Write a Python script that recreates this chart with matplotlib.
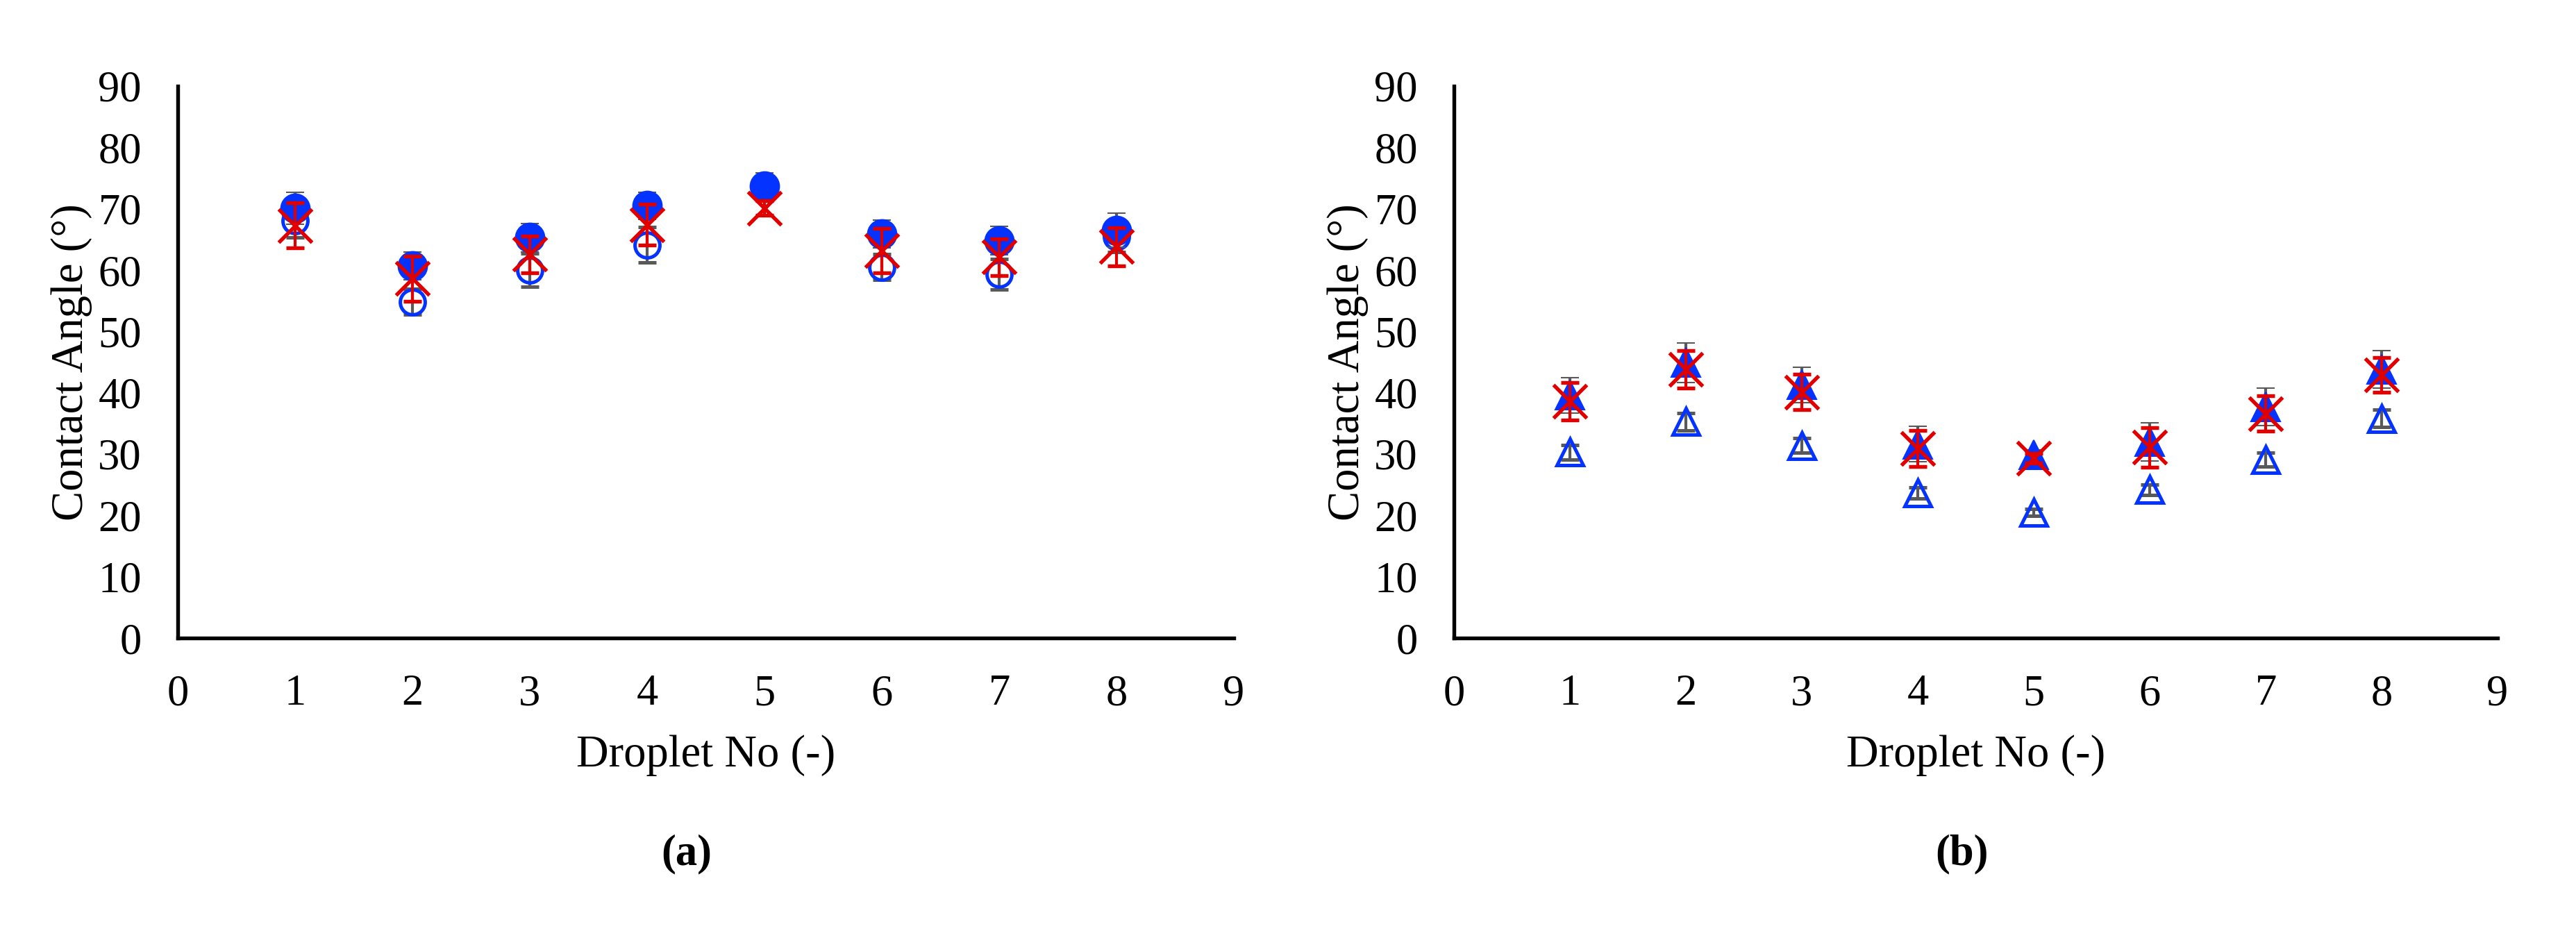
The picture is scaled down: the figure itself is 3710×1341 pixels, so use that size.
import numpy as np
import matplotlib
matplotlib.use("Agg")
import matplotlib.pyplot as plt

plt.rcParams['font.family'] = ['Liberation Serif', 'DejaVu Serif']

droplet = [1, 2, 3, 4, 5, 6, 7, 8]
nan = np.nan

# panel (a): circles
filled_a = [70.1, 60.7, 65.3, 70.5, 73.7, 65.9, 64.8, 66.5]
filled_a_err = [2.6, 2.3, 2.3, 2.2, 2.1, 2.3, 2.3, 2.8]
open_a = [68.0, 54.8, 60.0, 64.1, nan, 60.5, 59.3, 65.4]
open_a_err = [2.7, 2.1, 2.7, 2.9, nan, 2.1, 2.5, 2.5]
cross_a = [67.3, 58.6, 62.6, 67.4, 70.1, 63.2, 62.1, 63.8]
cross_a_err = [3.7, 3.7, 3.0, 3.3, 1.2, 3.6, 3.0, 3.1]

# panel (b): triangles
filled_b = [39.6, 44.9, 41.3, 31.6, 29.9, 32.0, 37.7, 43.8]
filled_b_err = [2.9, 3.2, 2.9, 2.9, 0.8, 3.1, 3.1, 3.1]
open_b = [30.3, 35.3, 31.4, 23.7, 20.5, 24.2, 29.1, 35.8]
open_b_err = [1.2, 1.4, 1.2, 0.9, 0.6, 0.85, 1.1, 1.4]
cross_b = [38.6, 43.8, 40.1, 30.9, 29.3, 31.1, 36.6, 42.9]
cross_b_err = [3.1, 3.1, 2.9, 2.95, 0.8, 3.2, 2.9, 2.85]

blue = '#0433FF'
red = '#E00000'
grey = '#595959'

W, H = 3710, 1341
fig = plt.figure(figsize=(W / 300, H / 300), dpi=300)

ax_a = fig.add_axes([256 / W, 1 - 919 / H, 1521 / W, 795 / H])
ax_b = fig.add_axes([2094 / W, 1 - 919 / H, 1503 / W, 795 / H])

eb = dict(capsize=3.2, capthick=1.2, elinewidth=1.0, linestyle='none', clip_on=False)


def draw(ax, filled, filled_err, opn, opn_err, cross, cross_err, mk, ms_f, ms_o):
    ax.errorbar(droplet, opn, yerr=opn_err, fmt=mk, ms=ms_o, mfc='none', mec=blue,
                mew=1.2, ecolor=grey, zorder=3, **eb)
    ax.errorbar(droplet, filled, yerr=filled_err, fmt=mk, ms=ms_f, mfc=blue, mec=blue,
                mew=0.5, ecolor=grey, zorder=4, **eb)
    ax.errorbar(droplet, cross, yerr=cross_err, fmt='x', ms=11.5, mec=red,
                mew=1.3, ecolor=red, zorder=5, **eb)

    ax.set_xlim(0, 9)
    ax.set_ylim(0, 90)
    ax.set_xticks(range(0, 10))
    ax.set_yticks(range(0, 100, 10))
    ax.tick_params(length=0, labelsize=15, pad=12.5)
    for s in ['top', 'right']:
        ax.spines[s].set_visible(False)
    for s in ['left', 'bottom']:
        ax.spines[s].set_linewidth(1.3)
        ax.spines[s].set_color('black')
    ax.set_xlabel('Droplet No (-)', fontsize=15.5, labelpad=7)
    ax.set_ylabel('Contact Angle (°)', fontsize=15.5, labelpad=2)


draw(ax_a, filled_a, filled_a_err, open_a, open_a_err, cross_a, cross_a_err, 'o', 10, 8.6)
draw(ax_b, filled_b, filled_b_err, open_b, open_b_err, cross_b, cross_b_err, '^', 10.3, 9.2)

fig.text(989 / W, 1 - 1230 / H, '(a)', ha='center', va='center', fontsize=15, fontweight='bold')
fig.text(2825 / W, 1 - 1230 / H, '(b)', ha='center', va='center', fontsize=15, fontweight='bold')

fig.savefig('out.png', dpi=300)
